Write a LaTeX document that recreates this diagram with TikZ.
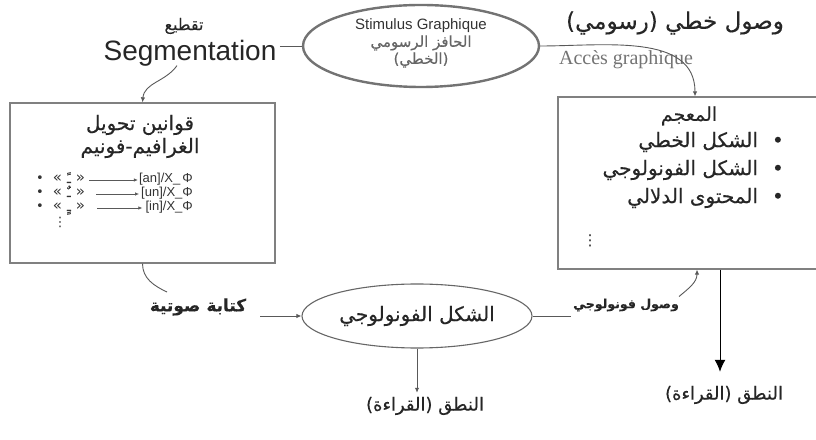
\documentclass[tikz,border=0pt]{standalone}
\usepackage{fontspec}
\setmainfont{Liberation Sans}
\newfontfamily\arfont[Script=Arabic, FakeBold=0.3]{DejaVu Sans}
\newfontfamily\symfont{DejaVu Sans}
\newfontfamily\seriffont{Liberation Serif}
\TeXXeTstate=1
\usetikzlibrary{shapes.geometric,arrows.meta}
% right-to-left Arabic run
\newcommand{\AR}[1]{{\arfont\beginR #1\endR}}
\newcommand{\fs}[1]{\fontsize{#1}{#1}\selectfont}
% one tanween rule: bullet, quoted mark
\newcommand{\tanween}[1]{\symfont •\hspace{9pt}{\fs{15}«}\hspace{5pt}\AR{#1}\hspace{5pt}{\fs{15}»}}

\begin{document}
\begin{tikzpicture}[x=1pt,y=1pt,
  panel/.style={draw=black!50, line width=1.3pt, inner sep=0pt},
  oval/.style={ellipse, draw=black!60, line width=1.1pt, inner sep=0pt},
  conn/.style={draw=black!65, line width=0.9pt},
  tip/.style={-{Latex[length=5pt,width=4.5pt]}},
  bigtip/.style={-{Latex[length=12pt,width=11pt]}},
  artext/.style={text=black!85, inner sep=2pt},
  rule/.style={font=\fs{13}, text=black!80, inner sep=0pt, text height=8pt, text depth=2pt},
]
\path[use as bounding box] (0,0) rectangle (816,439);

% --- graphic stimulus -------------------------------------------------
\node[oval, draw=black!55, line width=2.4pt, minimum width=236pt, minimum height=82pt] (stim) at (421,393) {};
\node[align=center, text=black!80, inner sep=0pt] (stimtext) at (421,396)
  {{\fs{15}Stimulus Graphique}\\[2pt]
   {\fs{15}\color{black!60}\AR{الحافز الرسومي}}\\[1pt]
   {\fs{15}\color{black!60}\AR{(الخطي)}}};

% --- segmentation branch ----------------------------------------------
\node[text=black!85, font=\fs{28}] (seg) at (190,386) {Segmentation};
\node[artext, font=\fs{16}] (segar) at (184,413) {\AR{تقطيع}};

\node[panel, minimum width=265pt, minimum height=160pt] (lbox) at (142.5,256) {};
\node[artext, font=\fs{20}] (lt1) at (140,314) {\AR{قوانين تحويل}};
\node[artext, font=\fs{20}] (lt2) at (140,291) {\AR{الغرافيم-فونيم}};

\node[rule, anchor=west] (r1a) at (36,259) {\tanween{ـً}};
\node[rule, anchor=east] (r1b) at (193,259) {[an]/X\_\,Φ};
\node[rule, anchor=west] (r2a) at (36,245) {\tanween{ـٌ}};
\node[rule, anchor=east] (r2b) at (193,245) {[un]/X\_Φ};
\node[rule, anchor=west] (r3a) at (36,231) {\tanween{ـٍ}};
\node[rule, anchor=east] (r3b) at (193,231) {[in]/X\_Φ};
\node[rule, font=\symfont\fs{13}] (rdots) at (60,215) {⋮};
\draw[conn, line width=0.7pt, -{Latex[length=4pt,width=3.5pt]}] ([xshift=4pt]r1a.east) -- ([xshift=-1pt]r1b.west);
\draw[conn, line width=0.7pt, -{Latex[length=4pt,width=3.5pt]}] ([xshift=11pt]r2a.east) -- ([xshift=-2pt]r2b.west);
\draw[conn, line width=0.7pt, -{Latex[length=4pt,width=3.5pt]}] ([xshift=12pt]r3a.east) -- ([xshift=-3pt]r3b.west);

% --- graphic access branch --------------------------------------------
\node[artext, font=\fs{23}] (accar) at (675,416) {\AR{وصول خطي (رسومي)}};
\node[text=black!55, font=\seriffont\fs{20}] (acc) at (626,379) {Accès graphique};

\node[panel, minimum width=260pt, minimum height=172pt] (rbox) at (688,256) {};
\node[artext, font=\fs{19}] (lex) at (689,323) {\AR{المعجم}};
\node[artext, font=\fs{20}, anchor=east] (l1) at (786,297) {\AR{•\hspace{14pt}الشكل الخطي}};
\node[artext, font=\fs{20}, anchor=east] (l2) at (786,269) {\AR{•\hspace{14pt}الشكل الفونولوجي}};
\node[artext, font=\fs{20}, anchor=east] (l3) at (786,241) {\AR{•\hspace{14pt}المحتوى الدلالي}};
\node[artext, font=\symfont\fs{15}] (ldots) at (590,198) {⋮};

% --- phonological form ------------------------------------------------
\node[oval, minimum width=230pt, minimum height=64pt, artext, font=\fs{20}] (phon) at (417,123)
  {\AR{الشكل الفونولوجي}};
\node[artext, font=\bfseries\fs{17}] (kt) at (198,132) {\AR{كتابة صوتية}};
\node[artext, font=\bfseries\fs{12.5}] (vf) at (626,134) {\AR{وصول فونولوجي}};
\node[artext, font=\fs{18}] (nt1) at (425,33) {\AR{النطق (القراءة)}};
\node[artext, font=\fs{18}] (nt2) at (724,44) {\AR{النطق (القراءة)}};

\coordinate (ktend) at ([xshift=12pt]kt.east);
\coordinate (kturn) at (167,147);

% --- connectors -------------------------------------------------------
\draw[conn] (seg.east |- stim.west) -- (stim.west);
\draw[conn, tip] ([xshift=-13pt,yshift=4pt]seg.south) to[out=-125, in=85] (lbox.north);
\draw[conn, tip] (stim.east) to[out=0, in=90] ([xshift=7pt]rbox.north);
\draw[conn] (lbox.south) to[out=-90, in=155] (kturn);
\draw[conn, tip] (ktend |- phon.west) -- (phon.west);
\draw[conn] (phon.east) -- (phon.east -| vf.west);
\draw[conn, tip] ([xshift=-2pt]vf.north east) to[out=40, in=-90] ([xshift=9pt]rbox.south);
\draw[conn, tip] (phon.south) -- ([yshift=2pt]phon.south |- nt1.north);
\draw[line width=1pt, black, bigtip] ([xshift=32pt]rbox.south) -- ([xshift=32pt,yshift=12pt]rbox.south |- nt2.north);
\end{tikzpicture}
\end{document}
